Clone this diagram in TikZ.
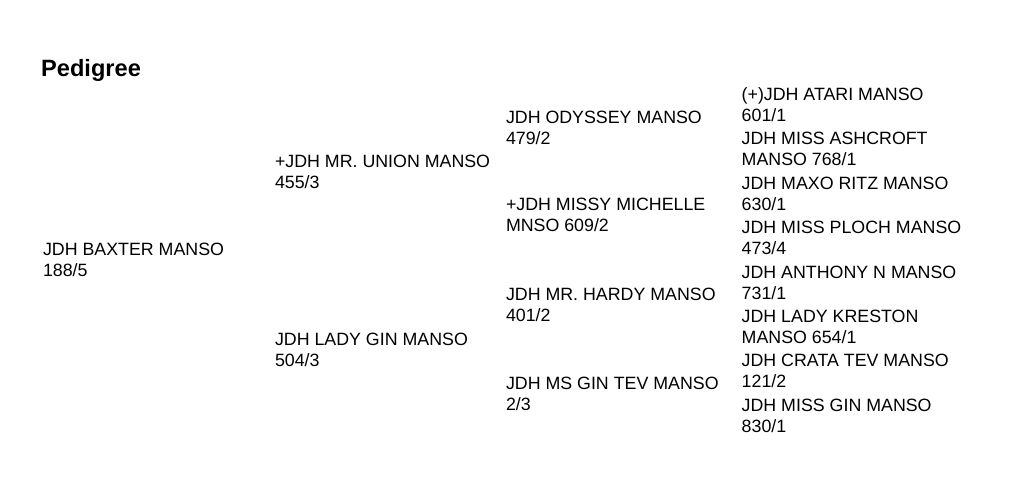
\documentclass[tikz,border=0pt]{standalone}
\usepackage{fontspec}
\setmainfont{Liberation Sans}
\newcommand{\twoline}[2]{\vtop{\hbox{#1}\hbox{#2}}}
\begin{document}
\begin{tikzpicture}[x=1pt,y=-1pt,
  entry/.style={anchor=base west,inner sep=0pt,outer sep=0pt,
    font=\fontsize{17.8pt}{21pt}\selectfont},
  heading/.style={anchor=base west,inner sep=0pt,
    font=\fontsize{23.6pt}{27pt}\selectfont\bfseries}]
\useasboundingbox[fill=white] (0,0) rectangle (1009,478);
\node[heading] (title) at (41,77) {Pedigree};
% generation 1
\node[entry] (g1) at (43,256) {\twoline{JDH BAXTER MANSO}{188/5}};
% generation 2
\node[entry] (g2a) at (275,167.3) {\twoline{+JDH MR. UNION MANSO}{455/3}};
\node[entry] (g2b) at (275,345) {\twoline{JDH LADY GIN MANSO}{504/3}};
% generation 3
\node[entry] (g3a) at (506,123.3) {\twoline{JDH ODYSSEY MANSO}{479/2}};
\node[entry] (g3b) at (506,211) {\twoline{+JDH MISSY MICHELLE}{MNSO 609/2}};
\node[entry] (g3c) at (506,300.7) {\twoline{JDH MR. HARDY MANSO}{401/2}};
\node[entry] (g3d) at (506,389) {\twoline{JDH MS GIN TEV MANSO}{2/3}};
% generation 4
\node[entry] (g4a) at (741.7,101) {\twoline{(+)JDH ATARI MANSO}{601/1}};
\node[entry] (g4b) at (741.7,145) {\twoline{JDH MISS ASHCROFT}{MANSO 768/1}};
\node[entry] (g4c) at (741.7,189.3) {\twoline{JDH MAXO RITZ MANSO}{630/1}};
\node[entry] (g4d) at (741.7,233.3) {\twoline{JDH MISS PLOCH MANSO}{473/4}};
\node[entry] (g4e) at (741.7,279) {\twoline{JDH ANTHONY N MANSO}{731/1}};
\node[entry] (g4f) at (741.7,322.7) {\twoline{JDH LADY KRESTON}{MANSO 654/1}};
\node[entry] (g4g) at (741.7,366.7) {\twoline{JDH CRATA TEV MANSO}{121/2}};
\node[entry] (g4h) at (741.7,411.7) {\twoline{JDH MISS GIN MANSO}{830/1}};
\end{tikzpicture}
\end{document}
